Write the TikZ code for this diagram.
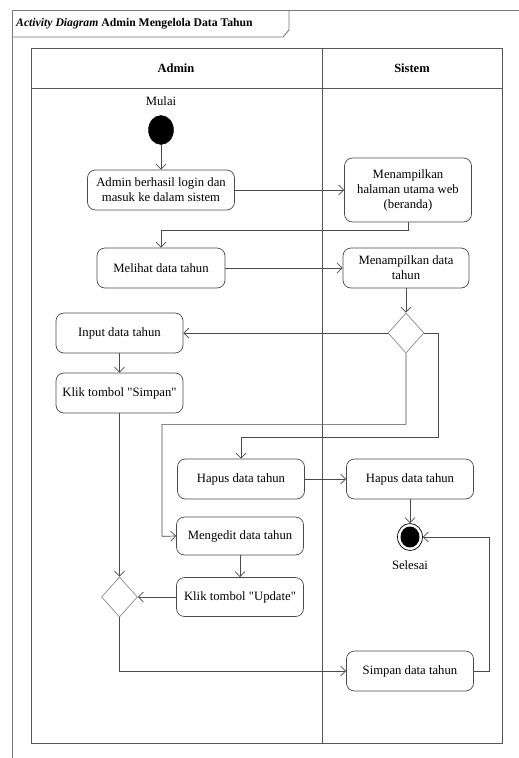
\documentclass[tikz,border=0pt]{standalone}
\usepackage{fontspec}
\setmainfont{Liberation Serif}
\newfontfamily\qfont{Liberation Serif}
\usetikzlibrary{shapes.geometric,arrows.meta}
\definecolor{boxgray}{HTML}{4A4A4A}
\definecolor{lanegray}{HTML}{555555}
\definecolor{dgray}{HTML}{8A8A8A}
\definecolor{framegray}{HTML}{777777}
\newcommand{\sq}{{\qfont"}}
\tikzset{
  act/.style={draw=boxgray, line width=0.7pt, rounded corners=8pt, minimum width=127pt, minimum height=40pt,
    align=center, inner sep=0pt, font=\fontsize{12.7}{15}\selectfont},
  decis/.style={draw=dgray, line width=0.7pt, shape=diamond, minimum width=36pt, minimum height=40pt, inner sep=0pt},
  arr/.style={draw=boxgray, line width=0.7pt, -{Straight Barb[length=5pt,width=10pt]}},
  lbl/.style={font=\fontsize{12.7}{15}\selectfont, inner sep=0pt},
  hdr/.style={font=\fontsize{12.5}{15}\selectfont\bfseries, inner sep=0pt}
}
\begin{document}
\begin{tikzpicture}[x=1pt,y=-1pt]
\useasboundingbox (0,0) rectangle (519,758);
% outer frame
\draw[framegray, line width=0.9pt] (519,10) -- (12,10) -- (12,758);
\draw[framegray, line width=0.9pt] (12,37) -- (283,37) -- (289,30) -- (289,10);
\node[anchor=west, inner sep=0pt, font=\fontsize{11.7}{14}\selectfont\bfseries] (title) at (16,23.5) {\textit{Activity Diagram} Admin Mengelola Data Tahun};
% swimlanes
\draw[lanegray, line width=0.8pt] (31,48) rectangle (502,743);
\draw[lanegray, line width=0.8pt] (31,88) -- (502,88);
\draw[lanegray, line width=0.8pt] (322,48) -- (322,743);
\node[hdr] (hadmin) at (176,68) {Admin};
\node[hdr] (hsistem) at (412,68) {Sistem};
% nodes
\node[lbl] (mulai) at (161,101) {Mulai};
\node[ellipse, fill=black, draw=black, minimum width=25pt, minimum height=29pt, inner sep=0pt] (start) at (161,130) {};
\node[act, minimum width=147pt] (n1) at (161,190) {Admin berhasil login dan\\masuk ke dalam sistem};
\node[act, minimum height=64pt] (n2) at (408,190) {Menampilkan\\halaman utama web\\(beranda)};
\node[act, minimum width=128pt] (n3) at (161,268) {Melihat data tahun};
\node[act, minimum width=126pt] (n4) at (406,268) {Menampilkan data\\tahun};
\node[decis] (d1) at (406,333) {};
\node[act] (n5) at (119.5,333) {Input data tahun};
\node[act] (n6) at (119.5,393) {Klik tombol \sq Simpan\sq};
\node[act] (n7) at (241,479) {Hapus data tahun};
\node[act] (n8) at (410,479) {Hapus data tahun};
\node[ellipse, draw=black, line width=0.7pt, minimum width=25pt, minimum height=27pt, inner sep=0pt] (end) at (410,537) {};
\node[ellipse, fill=black, minimum width=19pt, minimum height=21pt, inner sep=0pt] (endin) at (410,537) {};
\node[lbl] (selesai) at (410,565) {Selesai};
\node[act, minimum height=38pt] (n9) at (240,536) {Mengedit data tahun};
\node[act, minimum height=39pt] (n10) at (240,597) {Klik tombol \sq Update\sq};
\node[decis] (d2) at (119.5,597) {};
\node[act] (n11) at (410,671) {Simpan data tahun};
% connectors
\draw[arr] (start) -- (n1);
\draw[arr] (n1) -- (n2);
\draw[arr] (n2.south) -- ++(0,8) -| (n3.north);
\draw[arr] (n3) -- (n4);
\draw[arr] (n4) -- (d1);
\draw[arr] (d1.west) -- (n5.east);
\draw[arr] (d1.south) -- ++(0,71) -| ++(-244,112) -- (n9.west);
\draw[arr] (d1.east) -- ++(14,0) -- ++(0,104) -| (n7.north);
\draw[arr] (n5) -- (n6);
\draw[arr] (n6.south) -- (d2.north);
\draw[arr] (n7) -- (n8);
\draw[arr] (n8.south) -- (end.north);
\draw[arr] (n9) -- (n10);
\draw[arr] (n10.west) -- (d2.east);
\draw[arr] (d2.south) |- (n11.west);
\draw[arr] (n11.east) -- ++(15,0) |- (end.east);
\end{tikzpicture}
\end{document}
